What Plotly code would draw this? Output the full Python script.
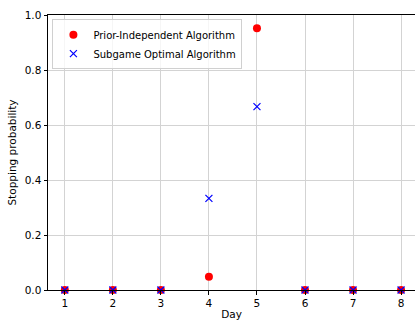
import plotly.graph_objects as go

days = [1, 2, 3, 4, 5, 6, 7, 8]
prior_independent = [0, 0, 0, 0.048, 0.952, 0, 0, 0]
subgame_optimal = [0, 0, 0, 0.333, 0.667, 0, 0, 0]
y_ticks = [0.0, 0.2, 0.4, 0.6, 0.8, 1.0]

font = "DejaVu Sans"
fig = go.Figure()
fig.add_trace(go.Scatter(x=days, y=prior_independent, mode="markers",
                         name="Prior-Independent Algorithm",
                         marker=dict(color="red", size=8, symbol="circle"),
                         cliponaxis=False))
fig.add_trace(go.Scatter(x=days, y=subgame_optimal, mode="markers",
                         name="Subgame Optimal Algorithm",
                         marker=dict(color="blue", size=7, symbol="x-thin",
                                     line=dict(color="blue", width=1.2)),
                         cliponaxis=False))

fig.update_layout(
    width=415, height=320,
    margin=dict(l=48, r=0, t=15, b=30),
    plot_bgcolor="white", paper_bgcolor="white",
    font=dict(family=font, size=10.5, color="black"),
    showlegend=True,
    legend=dict(x=0.012, y=0.985, xanchor="left", yanchor="top",
                bgcolor="rgba(255,255,255,0.8)", bordercolor="#d0d0d0",
                borderwidth=1, font=dict(size=10), tracegroupgap=0,
                itemsizing="trace", itemwidth=30),
)
fig.update_xaxes(range=[0.65, 8.29], tickmode="array", tickvals=days,
                 ticktext=[str(d) for d in days],
                 showgrid=True, gridcolor="#d3d3d3", gridwidth=1.2,
                 showline=True, linecolor="black", linewidth=1, mirror=True,
                 ticks="outside", ticklen=3.5, tickcolor="black",
                 zeroline=False,
                 title=dict(text="Day", standoff=4, font=dict(size=10.5)))
fig.update_yaxes(range=[0, 1], tickmode="array", tickvals=y_ticks,
                 ticktext=[f"{v:.1f}" for v in y_ticks],
                 showgrid=True, gridcolor="#d3d3d3", gridwidth=1.2,
                 showline=True, linecolor="black", linewidth=1, mirror=True,
                 ticks="outside", ticklen=3.5, tickcolor="black",
                 zeroline=False,
                 title=dict(text="Stopping probability", standoff=6, font=dict(size=10.5)))

fig.write_html("out.html")
